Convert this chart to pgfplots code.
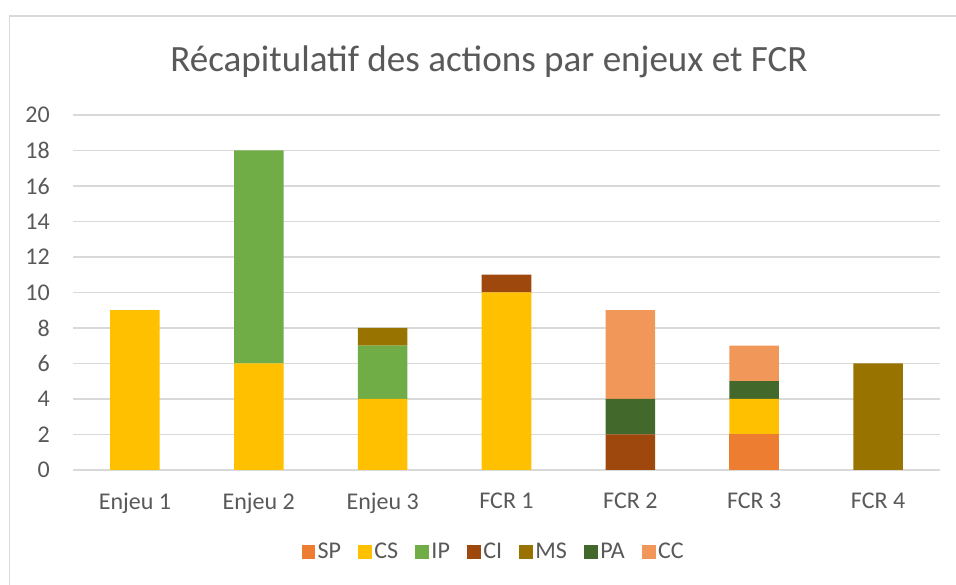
\documentclass[border=0pt]{standalone}
\usepackage{pgfplots}
\pgfplotsset{compat=1.18}
\usepackage{pgfplotstable}
\usepackage{fontspec}
\setmainfont{Carlito}
\definecolor{cSP}{HTML}{ED7D31}
\definecolor{cCS}{HTML}{FFC000}
\definecolor{cIP}{HTML}{70AD47}
\definecolor{cCI}{HTML}{9E480E}
\definecolor{cMS}{HTML}{997300}
\definecolor{cPA}{HTML}{43682B}
\definecolor{cCC}{HTML}{F1975A}
\definecolor{txt}{HTML}{595959}
\definecolor{gridc}{HTML}{D9D9D9}
\pgfplotstableread{
x SP CS IP CI MS PA CC
0 0 9 0 0 0 0 0
1 0 6 12 0 0 0 0
2 0 4 3 0 1 0 0
3 0 10 0 1 0 0 0
4 0 0 0 2 0 2 5
5 2 2 0 0 0 1 2
6 0 0 0 0 6 0 0
}\datatable
\begin{document}
\begin{tikzpicture}
\useasboundingbox (0,0) rectangle (717pt,438.75pt);
\fill[white] (0,0) rectangle (717pt,438.75pt);
\draw[gridc, line width=0.9pt] (7.125pt,-2pt) -- (7.125pt,426.75pt) -- (720pt,426.75pt);
\node[txt, font=\fontsize{27.8}{33}\selectfont, anchor=base] at (366.75pt,384.75pt) {Récapitulatif des actions par enjeux et FCR};
\begin{axis}[
  at={(54.75pt,86.25pt)}, anchor=south west,
  scale only axis, width=650.25pt, height=266.25pt,
  ybar stacked, bar width=0.4,
  xmin=-0.5, xmax=6.5, ymin=0, ymax=20,
  xtick={0,...,6},
  xticklabels={Enjeu 1,Enjeu 2,Enjeu 3,FCR 1,FCR 2,FCR 3,FCR 4},
  ytick={0,2,...,20},
  axis line style={draw=none},
  major tick length=0pt,
  ymajorgrids, grid style={gridc, line width=0.9pt},
  /pgf/number format/assume math mode=true,
  tick label style={txt, font=\fontsize{18}{21}\selectfont},
  yticklabel style={anchor=east, inner sep=0pt, xshift=-17.25pt},
  xticklabel style={anchor=north, inner sep=0pt, yshift=-17.25pt},
  legend columns=7,
  legend style={at={(0.4856,-0.231)}, anchor=center, draw=none, fill=none,
    nodes={font=\fontsize{18}{21}\selectfont, text=txt, inner xsep=2pt},
    /tikz/every odd column/.append style={column sep=0pt},
    /tikz/every even column/.append style={column sep=11pt}},
  legend image code/.code={\fill[#1] (-5pt,-5pt) rectangle (5pt,5pt);},
  every axis plot/.append style={draw=none},
]
\addplot[fill=cSP] table[x=x,y=SP]{\datatable};
\addplot[fill=cCS] table[x=x,y=CS]{\datatable};
\addplot[fill=cIP] table[x=x,y=IP]{\datatable};
\addplot[fill=cCI] table[x=x,y=CI]{\datatable};
\addplot[fill=cMS] table[x=x,y=MS]{\datatable};
\addplot[fill=cPA] table[x=x,y=PA]{\datatable};
\addplot[fill=cCC] table[x=x,y=CC]{\datatable};
\legend{SP,CS,IP,CI,MS,PA,CC}
\end{axis}
\end{tikzpicture}
\end{document}
